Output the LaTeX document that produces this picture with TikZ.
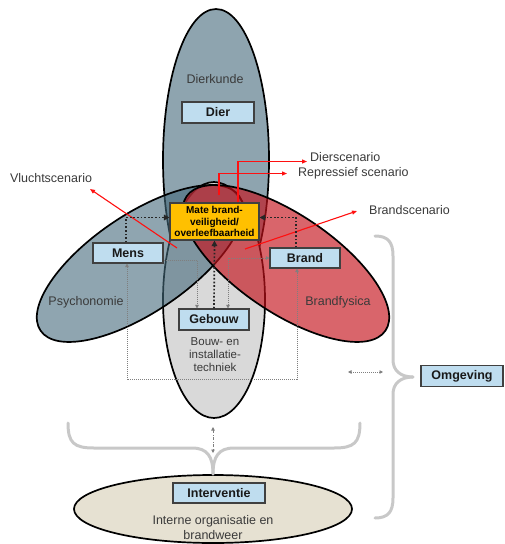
\documentclass[tikz,border=0pt]{standalone}
\usepackage{fontspec}
\setmainfont{Liberation Sans}
\usetikzlibrary{arrows.meta,calc}
\definecolor{dierc}{HTML}{8EA4AF}
\definecolor{gebc}{HTML}{D9D9D9}
\definecolor{mensc}{HTML}{44697B}
\definecolor{brandc}{HTML}{C5121B}
\definecolor{intc}{HTML}{E6E1D2}
\definecolor{boxc}{HTML}{BFDDEF}
\definecolor{matec}{HTML}{FFC000}
\definecolor{txtc}{HTML}{3A3A3A}
\definecolor{bracec}{HTML}{C8C8C8}
\definecolor{grayln}{HTML}{7F7F7F}
\definecolor{redc}{HTML}{FF1010}
\tikzset{gtip/.tip={Triangle[length=3.5pt,width=3.5pt]}}
\begin{document}
\begin{tikzpicture}[x=1pt,y=-1pt,
  lab/.style={font=\fontsize{12.5}{15}\selectfont, text=txtc, inner sep=0pt, align=center},
  bluebox/.style={draw=black!75, line width=1.1pt, fill=boxc, font=\fontsize{12.5}{15}\selectfont\bfseries, text=black!90, inner sep=0pt, minimum height=20pt},
  matebox/.style={draw=black!75, line width=1.1pt, fill=matec, font=\fontsize{10}{11.5}\selectfont\bfseries, text=black, inner sep=0pt, align=center, minimum width=89pt, minimum height=37pt},
  outl/.style={draw=black, line width=1.7pt},
  bracel/.style={draw=bracec, line width=3pt, line cap=round},
  redln/.style={draw=redc, line width=1.1pt, -{Triangle[length=5pt,width=4pt]}},
  blkdot/.style={draw=black!85, line width=1.7pt, dash pattern=on 1.7pt off 1.9pt, -{Triangle[length=5.5pt,width=5.5pt]}},
  grydot/.style={draw=grayln, line width=0.8pt, dash pattern=on 0.9pt off 1.1pt},
  grydash/.style={draw=grayln, line width=0.8pt, dash pattern=on 3pt off 1.5pt on 1pt off 1.5pt}
]
\useasboundingbox (0,0) rectangle (504,544);

% ellipses
\path[fill=dierc, outl] (216,160) ellipse [x radius=53, y radius=151];
\path[fill=gebc, outl] (214,300) ellipse [x radius=51, y radius=118];
\path[fill=mensc, fill opacity=0.6, outl, rotate around={34:(140,263.5)}] (140,263.5) ellipse [x radius=120, y radius=49];
\path[fill=brandc, fill opacity=0.65, outl, rotate around={-34:(286,263.5)}] (286,263.5) ellipse [x radius=120, y radius=49];
\path[fill=intc, outl] (213,509) ellipse [x radius=139, y radius=34];

% braces
\draw[bracel] (68,423) .. controls (68,443) and (74,448) .. (94,448) -- (192,448) .. controls (207,448) and (213,456) .. (213,474);
\draw[bracel] (360,423) .. controls (360,443) and (354,448) .. (334,448) -- (234,448) .. controls (219,448) and (213,456) .. (213,474);
\draw[bracel] (375,236) .. controls (388,236) and (393,242) .. (393,256) -- (393,360) .. controls (393,370) and (400,377) .. (413,377);
\draw[bracel] (375,518) .. controls (388,518) and (393,512) .. (393,498) -- (393,394) .. controls (393,384) and (400,377) .. (413,377);

% plain labels
\node[lab] (dierkunde) at (215,79) {Dierkunde};
\node[lab] (psycho) at (86,302) {Psychonomie};
\node[lab] (brandfys) at (338,302) {Brandfysica};
\node[lab, font=\fontsize{11.5}{12.6}\selectfont] (bouw) at (215,354.5) {Bouw- en\\installatie-\\techniek};
\node[lab] (vlucht) at (51,178) {Vluchtscenario};
\node[lab, anchor=west] (dierscen) at (310,157) {Dierscenario};
\node[lab, anchor=west] (represscen) at (298,173) {Repressief scenario};
\node[lab, anchor=west] (brandscen) at (369,210) {Brandscenario};
\node[lab] (interne) at (213,527.5) {Interne organisatie en\\brandweer};

% boxes
\node[bluebox, minimum width=72pt, minimum height=21pt] (dier) at (218,112.5) {Dier};
\node[matebox] (mate) at (214.5,221.5) {Mate brand-\\veiligheid/\\overleefbaarheid};
\node[bluebox, minimum width=70pt] (mens) at (128,253) {Mens};
\node[bluebox, minimum width=70pt] (brand) at (305,258) {Brand};
\node[bluebox, minimum width=70pt, minimum height=21pt] (gebouw) at (214,319.5) {Gebouw};
\node[bluebox, minimum width=92pt] (interv) at (219,493) {Interventie};
\node[bluebox, minimum width=82pt, minimum height=21pt] (omgeving) at (462,376) {Omgeving};

% red scenario connectors
\coordinate (vs0) at (177,248);
\coordinate (vs1) at (90,189);
\draw[redln] (vs0) -- (vs1);
\coordinate (ds1) at (307,161.5);
\draw[redln] ([xshift=23.5pt]mate.north) |- (ds1);
\coordinate (rs0) at (219,195);
\coordinate (rs1) at (287,173.5);
\draw[redln] (rs0) |- (rs1);
\coordinate (bs0) at (245,249);
\coordinate (bs1) at (357,211);
\draw[redln] (bs0) -- (bs1);

% black dotted connectors
\draw[blkdot] ([xshift=-2pt]mens.north) |- ([yshift=4pt]mate.west);
\draw[blkdot] ([xshift=-9pt]brand.north) |- ([yshift=4pt]mate.east);
\draw[blkdot] (gebouw.north) -- (mate.south);

% gray dotted connectors
\draw[grydot, -{gtip}] ([yshift=-7pt]mens.east) -| ([xshift=-17pt]gebouw.north);
\draw[grydot, {gtip}-{gtip}] ([xshift=14pt]gebouw.north) |- (brand.west);
\draw[grydot, {gtip}-{gtip}] ([xshift=-1pt]mens.south) -- ++(0,116) -| ([xshift=-8pt]brand.south);
\coordinate (om0) at (348,372);
\coordinate (om1) at (383,372);
\draw[grydot, {gtip}-{gtip}] (om0) -- (om1);
\coordinate (gi0) at (213,427);
\coordinate (gi1) at (213,453);
\draw[grydash, {gtip}-{gtip}] (gi0) -- (gi1);
\end{tikzpicture}
\end{document}
